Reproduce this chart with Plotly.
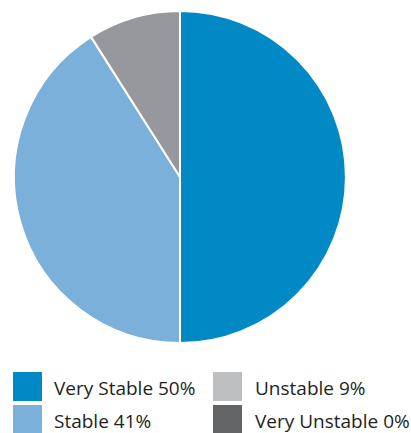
import plotly.graph_objects as go

# Stability distribution
categories = ["Very Stable", "Stable", "Unstable", "Very Unstable"]
shares = [50, 41, 9, 0]
slice_colors = ["#0089c4", "#7bb0da", "#97989b", "#636466"]
legend_colors = ["#0089c4", "#7bb0da", "#bdbec0", "#636466"]

W, H = 411, 433

fig = go.Figure(
    go.Pie(
        labels=categories,
        values=shares,
        sort=False,
        direction="clockwise",
        rotation=0,
        marker=dict(colors=slice_colors, line=dict(color="white", width=2)),
        textinfo="none",
        hoverinfo="label+percent",
        showlegend=False,
        domain=dict(x=[14 / W, 346 / W], y=[1 - 343 / H, 1 - 11 / H]),
    )
)

# Two-column legend below the pie
shapes, annotations = [], []
swatch_x = [13, 213]
text_x = [52, 253]
row_top = [372, 405]
size = 29
for i, (cat, val, col) in enumerate(zip(categories, shares, legend_colors)):
    c, r = i // 2, i % 2
    x0 = swatch_x[c]
    y0 = row_top[r]
    shapes.append(dict(
        type="rect", xref="paper", yref="paper",
        x0=x0 / W, x1=(x0 + size) / W,
        y0=1 - (y0 + size) / H, y1=1 - y0 / H,
        fillcolor=col, line=dict(width=0),
    ))
    annotations.append(dict(
        xref="paper", yref="paper",
        x=text_x[c] / W, y=1 - (y0 + size / 2 + 1) / H,
        xanchor="left", yanchor="middle",
        text=f"{cat} {val}%", showarrow=False,
        font=dict(family="Open Sans", size=19, color="#231f20"),
    ))

fig.update_layout(
    width=W, height=H,
    margin=dict(l=0, r=0, t=0, b=0),
    paper_bgcolor="white", plot_bgcolor="white",
    shapes=shapes, annotations=annotations,
)

fig.write_html("out.html")
